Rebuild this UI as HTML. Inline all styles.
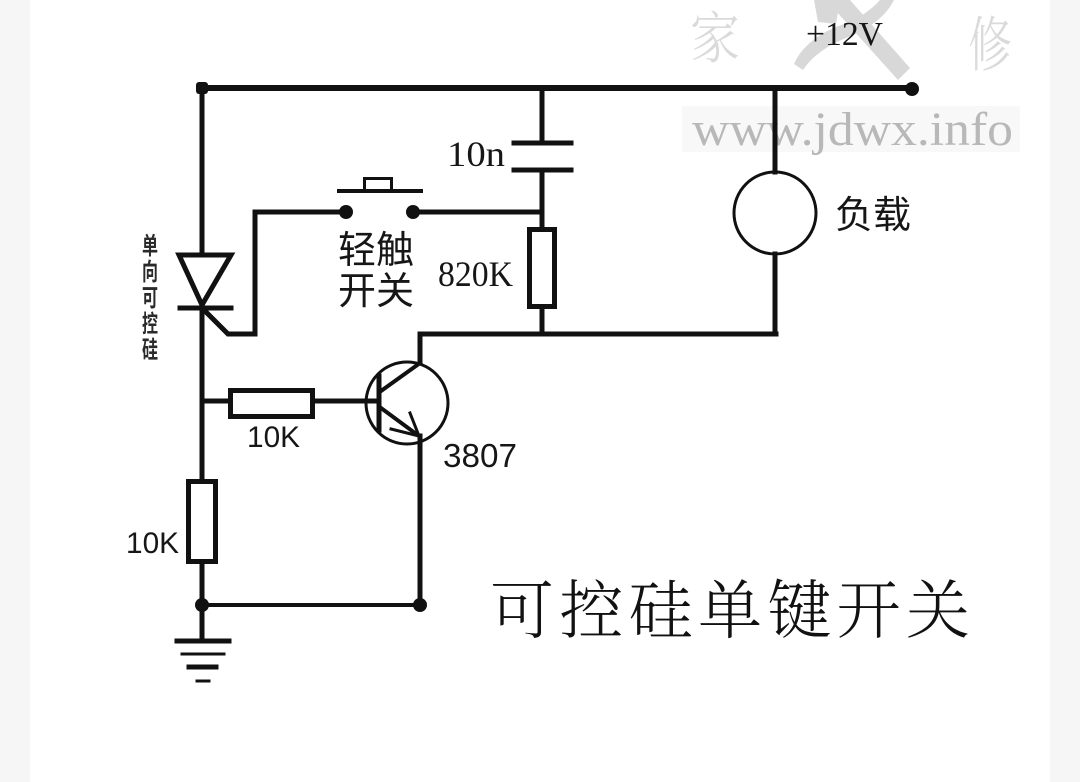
<!DOCTYPE html>
<html>
<head>
<meta charset="utf-8">
<style>
  html,body{margin:0;padding:0;background:#ffffff;}
  body{width:1080px;height:782px;overflow:hidden;position:relative;}
  svg{position:absolute;left:0;top:0;}
</style>
</head>
<body>
<svg width="1080" height="782" viewBox="0 0 1080 782" xmlns="http://www.w3.org/2000/svg">
  <!-- background -->
  <rect x="0" y="0" width="1080" height="782" fill="#ffffff"/>
  <rect x="0" y="0" width="30" height="782" fill="#f6f6f6"/>
  <rect x="1050" y="0" width="30" height="782" fill="#f6f6f6"/>

  <!-- watermark -->
  <rect x="682" y="106" width="338" height="46" fill="#f8f8f8"/>
  <g fill="#d2d2d2" opacity="0.85">
    <path d="M826,0 L850,0 L910,68 L898,80 Z"/>
    <path d="M794,64 C802,46 820,32 844,24 C860,18 872,9 880,0 L894,0 C886,16 870,28 851,36 C830,44 814,54 803,70 Z"/>
    <path d="M814,0 L840,0 L836,24 L818,22 Z"/>
  </g>
  <text x="690" y="58" font-family="'Noto Serif CJK SC', serif" font-weight="300" font-size="56" fill="#dadada" textLength="50" lengthAdjust="spacingAndGlyphs">家</text>
  <text x="968" y="66" font-family="'Noto Serif CJK SC', serif" font-weight="300" font-size="60" fill="#dadada" textLength="44" lengthAdjust="spacingAndGlyphs">修</text>
  <text x="692" y="145" font-family="'Liberation Serif', serif" font-size="48" fill="#b8b8b8" textLength="321" lengthAdjust="spacingAndGlyphs">www.jdwx.info</text>

  <g stroke="#111" fill="none" stroke-linecap="square">
    <!-- top rail -->
    <line x1="202" y1="88" x2="912" y2="88" stroke-width="6"/>
    <!-- left vertical: top to thyristor -->
    <line x1="202" y1="88" x2="202" y2="254" stroke-width="5"/>
    <!-- thyristor -->
    <polygon points="179,255 231,255 202,305" stroke-width="5" stroke-linejoin="miter"/>
    <line x1="180" y1="308" x2="231" y2="308" stroke-width="5"/>
    <line x1="202" y1="306" x2="202" y2="480" stroke-width="5"/>
    <!-- gate -->
    <polyline points="205,311 228,334 255,334 255,212 346,212" stroke-width="5" stroke-linejoin="miter"/>
    <!-- base resistor branch -->
    <line x1="202" y1="401" x2="230" y2="401" stroke-width="5"/>
    <rect x="230.5" y="390.5" width="82" height="26" stroke-width="5"/>
    <line x1="313" y1="401" x2="379" y2="401" stroke-width="5"/>
    <!-- lower vertical resistor -->
    <rect x="188.5" y="481.5" width="27" height="80" stroke-width="5"/>
    <line x1="202" y1="562" x2="202" y2="641" stroke-width="5"/>
    <!-- ground wire -->
    <line x1="202" y1="605" x2="420" y2="605" stroke-width="4"/>
    <!-- ground symbol -->
    <line x1="177" y1="641" x2="229" y2="641" stroke-width="5"/>
    <line x1="182" y1="654" x2="224" y2="654" stroke-width="3"/>
    <line x1="189" y1="667" x2="216" y2="667" stroke-width="5"/>
    <line x1="197" y1="681" x2="209" y2="681" stroke-width="3"/>
    <!-- transistor -->
    <circle cx="407" cy="403" r="41" stroke-width="3"/>
    <line x1="379" y1="376" x2="379" y2="430" stroke-width="5"/>
    <line x1="381" y1="391" x2="420" y2="363" stroke-width="4"/>
    <line x1="381" y1="408" x2="419" y2="436" stroke-width="4"/>
    <line x1="410" y1="413" x2="419" y2="436" stroke-width="3"/>
    <line x1="391" y1="429" x2="419" y2="436" stroke-width="3"/>
    <line x1="420" y1="363" x2="420" y2="334" stroke-width="5"/>
    <line x1="420" y1="436" x2="420" y2="605" stroke-width="5"/>
    <line x1="420" y1="334" x2="776" y2="334" stroke-width="5"/>
    <!-- capacitor + 820K branch -->
    <line x1="542" y1="88" x2="542" y2="143" stroke-width="5"/>
    <line x1="514" y1="143" x2="571" y2="143" stroke-width="5"/>
    <line x1="514" y1="170" x2="571" y2="170" stroke-width="5"/>
    <line x1="542" y1="170" x2="542" y2="229" stroke-width="5"/>
    <rect x="529.5" y="229.5" width="25" height="77" stroke-width="5"/>
    <line x1="542" y1="307" x2="542" y2="334" stroke-width="5"/>
    <!-- switch -->
    <line x1="413" y1="212" x2="542" y2="212" stroke-width="5"/>
    <line x1="339" y1="191" x2="421" y2="191" stroke-width="4"/>
    <rect x="364.5" y="178.5" width="27" height="12" stroke-width="3"/>
    <!-- load -->
    <line x1="775" y1="88" x2="775" y2="172" stroke-width="5"/>
    <circle cx="775" cy="213" r="41" stroke-width="3"/>
    <line x1="775" y1="254" x2="775" y2="334" stroke-width="5"/>
  </g>

  <!-- nodes / dots -->
  <g fill="#111">
    <rect x="196" y="82" width="12" height="12" rx="3"/>
    <circle cx="912" cy="89" r="7"/>
    <circle cx="202" cy="605" r="7"/>
    <circle cx="420" cy="605" r="7"/>
    <circle cx="346" cy="212" r="7"/>
    <circle cx="413" cy="212" r="7"/>
  </g>

  <!-- labels -->
  <g fill="#161616">
    <text x="806" y="45" font-family="'Liberation Serif', serif" font-size="34" textLength="77" lengthAdjust="spacingAndGlyphs">+12V</text>
    <text x="447" y="166" font-family="'Liberation Serif', serif" font-size="36" textLength="58" lengthAdjust="spacingAndGlyphs">10n</text>
    <text x="438" y="286" font-family="'Liberation Serif', serif" font-size="36" textLength="75" lengthAdjust="spacingAndGlyphs">820K</text>
    <text x="338" y="263" font-family="'Liberation Sans','Noto Sans CJK SC',sans-serif" font-size="38" textLength="76" lengthAdjust="spacingAndGlyphs">轻触</text>
    <text x="338" y="304" font-family="'Liberation Sans','Noto Sans CJK SC',sans-serif" font-size="38" textLength="76" lengthAdjust="spacingAndGlyphs">开关</text>
    <text x="835" y="228" font-family="'Liberation Sans','Noto Sans CJK SC',sans-serif" font-size="38" textLength="76" lengthAdjust="spacingAndGlyphs">负载</text>
    <text x="247" y="447" font-family="'Liberation Sans', sans-serif" font-size="30" textLength="53" lengthAdjust="spacingAndGlyphs">10K</text>
    <text x="126" y="553" font-family="'Liberation Sans', sans-serif" font-size="30" textLength="53" lengthAdjust="spacingAndGlyphs">10K</text>
    <text x="443" y="467" font-family="'Liberation Sans', sans-serif" font-size="33" textLength="74" lengthAdjust="spacingAndGlyphs">3807</text>
  </g>
  <g fill="#2a2a2a" font-family="'Liberation Sans','Noto Sans CJK SC',sans-serif" font-size="24" font-weight="bold">
    <text x="142" y="254" textLength="16" lengthAdjust="spacingAndGlyphs">单</text>
    <text x="142" y="280" textLength="16" lengthAdjust="spacingAndGlyphs">向</text>
    <text x="142" y="306" textLength="16" lengthAdjust="spacingAndGlyphs">可</text>
    <text x="142" y="332" textLength="16" lengthAdjust="spacingAndGlyphs">控</text>
    <text x="142" y="358" textLength="16" lengthAdjust="spacingAndGlyphs">硅</text>
  </g>

  <!-- title -->
  <text x="490" y="633" font-family="'Liberation Serif','Noto Serif CJK SC',serif" font-weight="300" font-size="64" fill="#111" textLength="480" lengthAdjust="spacing">可控硅单键开关</text>
</svg>
</body>
</html>
